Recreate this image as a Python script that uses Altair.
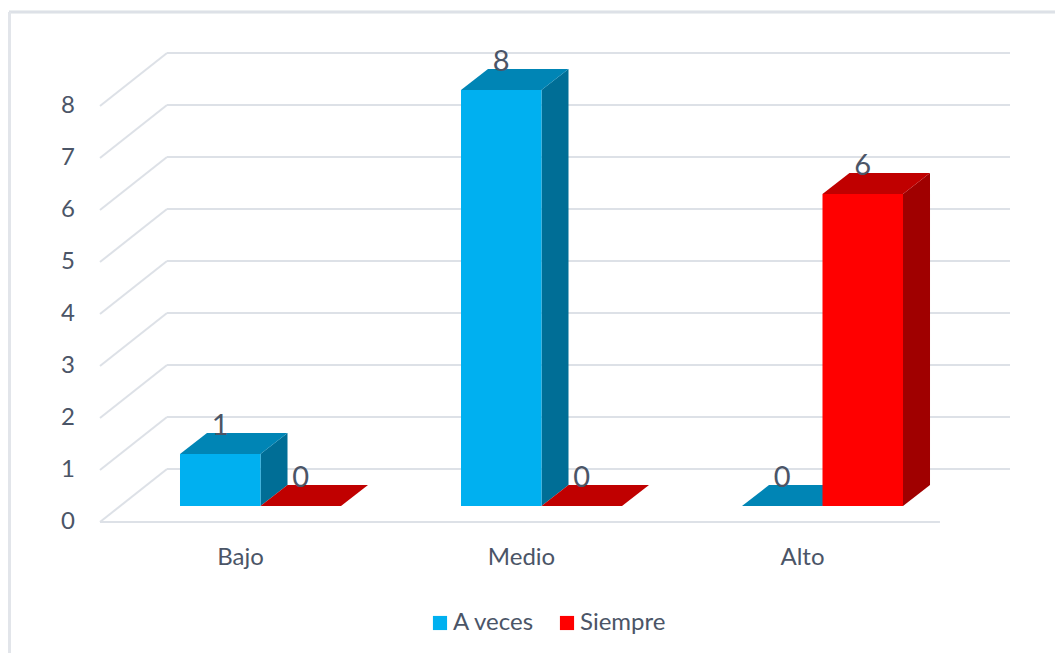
import altair as alt
import pandas as pd

# ---------------- data ----------------
categories = ["Bajo", "Medio", "Alto"]
series_names = ["A veces", "Siempre"]
a_veces = [1, 8, 0]
siempre = [0, 0, 6]
y_ticks = [0, 1, 2, 3, 4, 5, 6, 7, 8]

# ---------------- style ----------------
front_colors = ["#00B0F0", "#FF0000"]
top_colors = ["#0085B5", "#C00000"]
side_colors = ["#006E96", "#A00000"]
TEXT = "#4B5567"
GRID = "#DDE1E7"
FONT = "Lato"

W, H = 1047, 645
X_DOM = [-0.8986, 2.8274]   # category index units
Y_DOM = [-2.827, 9.577]     # value units
BW = 0.2865                 # bar width (category units)
DX = 0.0961                 # 3D depth, horizontal
DY = 0.4038                 # 3D depth, vertical
FLOOR_Y = -0.3077
BACK_Y = 0.7115
WALL_X0 = -0.5712
WALL_X1 = -0.3327
BACK_END = 2.6672
FRONT_END = 2.418
YLAB_X = -0.685
CAT_Y = -0.981

xs = alt.Scale(domain=X_DOM, nice=False, zero=False)
ys = alt.Scale(domain=Y_DOM, nice=False, zero=False)

# ---------------- tables ----------------
values = [a_veces, siempre]
bars = []
for s, name in enumerate(series_names):
    for i, cat in enumerate(categories):
        x0 = i - BW if s == 0 else i
        bars.append(dict(cat=cat, series=name, i=i, x0=x0, x1=x0 + BW,
                         xc=x0 + BW / 2, value=values[s][i],
                         tcol=top_colors[s], scol=side_colors[s],
                         bid=f"{s}-{i}"))
bars_df = pd.DataFrame(bars)

top_rows, side_rows = [], []
for b in bars:
    v, x0, x1 = b["value"], b["x0"], b["x1"]
    # top face (parallelogram) described as a vertical band along x
    for x, ya, yb in [(x0, v, v), (x0 + DX, v, v + DY), (x1, v, v + DY), (x1 + DX, v + DY, v + DY)]:
        top_rows.append(dict(bid=b["bid"], x=x, ya=ya, yb=yb, col=b["tcol"]))
    side_rows.append(dict(bid=b["bid"], x=x1, ya=0, yb=v, col=b["scol"]))
    side_rows.append(dict(bid=b["bid"], x=x1 + DX, ya=DY, yb=v + DY, col=b["scol"]))
top_df = pd.DataFrame(top_rows)
side_df = pd.DataFrame(side_rows)

grid_rows = []
for v in y_ticks:
    grid_rows.append(dict(xa=WALL_X0, ya=v + FLOOR_Y, xb=WALL_X1, yb=v + BACK_Y))
    grid_rows.append(dict(xa=WALL_X1, ya=v + BACK_Y, xb=BACK_END, yb=v + BACK_Y))
grid_rows.append(dict(xa=WALL_X0, ya=FLOOR_Y, xb=FRONT_END, yb=FLOOR_Y))
grid_df = pd.DataFrame(grid_rows)

ylab_df = pd.DataFrame(dict(v=y_ticks, y=[t + FLOOR_Y for t in y_ticks], x=[YLAB_X] * len(y_ticks)))
cat_df = pd.DataFrame(dict(cat=categories, i=list(range(len(categories))), y=[CAT_Y] * len(categories)))

# ---------------- layers ----------------
grid = alt.Chart(grid_df).mark_rule(color=GRID, strokeWidth=2).encode(
    x=alt.X("xa:Q", scale=xs, axis=None), y=alt.Y("ya:Q", scale=ys, axis=None),
    x2="xb:Q", y2="yb:Q")


def face(df):
    return alt.Chart(df).mark_area(orient="vertical").encode(
        x=alt.X("x:Q", scale=xs, axis=None),
        y=alt.Y("ya:Q", scale=ys, axis=None, stack=None), y2="yb:Q",
        detail="bid:N", fill=alt.Fill("col:N", scale=None))


side = face(side_df)
top = face(top_df)

front = alt.Chart(bars_df).mark_rect().encode(
    x=alt.X("x0:Q", scale=xs, axis=None), x2="x1:Q",
    y=alt.Y("value:Q", scale=ys, axis=None), y2=alt.datum(0),
    color=alt.Color("series:N",
                    scale=alt.Scale(domain=series_names, range=front_colors),
                    legend=alt.Legend(title=None, orient="none", direction="horizontal",
                                      legendX=420, legendY=603, padding=0,
                                      symbolType="square", symbolSize=200,
                                      symbolStrokeWidth=0, labelFont=FONT,
                                      labelFontSize=24, labelColor=TEXT,
                                      labelOffset=1, columnPadding=20)))

vlabels = alt.Chart(bars_df).transform_calculate(ly=f"datum.value + {DY}").mark_text(
    font=FONT, fontSize=29, color=TEXT, baseline="alphabetic", dy=2).encode(
    x=alt.X("xc:Q", scale=xs, axis=None), y=alt.Y("ly:Q", scale=ys, axis=None),
    text="value:Q")

ylabels = alt.Chart(ylab_df).mark_text(font=FONT, fontSize=24, color=TEXT,
                                       baseline="middle", align="center").encode(
    x=alt.X("x:Q", scale=xs, axis=None), y=alt.Y("y:Q", scale=ys, axis=None),
    text="v:Q")

clabels = alt.Chart(cat_df).mark_text(font=FONT, fontSize=24, color=TEXT,
                                      baseline="middle", align="center", dx=-20, dy=1).encode(
    x=alt.X("i:Q", scale=xs, axis=None), y=alt.Y("y:Q", scale=ys, axis=None),
    text="cat:N")

frame_top = alt.Chart(cat_df).mark_rule(color="#DDE1E7", strokeWidth=2.5).encode(
    x=alt.value(1), x2=alt.value(W), y=alt.value(4))
frame_left = alt.Chart(cat_df).mark_rule(color="#E2E5EA", strokeWidth=3).encode(
    x=alt.value(1.5), y=alt.value(4), y2=alt.value(H))

chart = alt.layer(frame_top, frame_left, grid, side, top, front, vlabels, ylabels, clabels).properties(
    width=W, height=H, autosize=alt.AutoSizeParams(type="none"), padding=0,
    background="white"
).configure_view(stroke=None)

chart.save("out.html", embed_options={"renderer": "svg", "actions": False})
